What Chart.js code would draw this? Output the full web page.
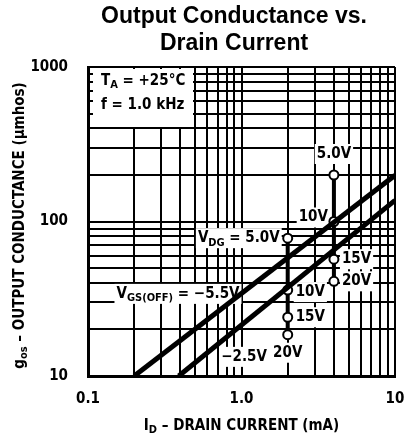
<!DOCTYPE html>
<html>
<head>
<meta charset="utf-8">
<script src="https://cdn.jsdelivr.net/npm/chart.js@4.4.1/dist/chart.umd.min.js"></script>
<style>
  html, body { margin: 0; padding: 0; background: #fff; }
  #wrap { width: 409px; height: 440px; position: relative; }
</style>
</head>
<body>
<div id="wrap"><canvas id="gosChart"></canvas></div>
<script>
// data (ID in mA, gos in umhos)
var xGrid = [0.1, 0.2, 0.3, 0.4, 0.5, 0.6, 0.7, 0.8, 0.9, 1, 2, 3, 4, 5, 6, 7, 8, 9, 10];
var yGrid = [10, 20, 30, 40, 50, 60, 70, 80, 90, 100, 200, 300, 400, 500, 600, 700, 800, 900, 1000];
var xTickVals = [0.1, 1, 10];
var xTickText = ['0.1', '1.0', '10'];
var yTickVals = [10, 100, 1000];
var yTickText = ['10', '100', '1000'];

// VGS(OFF) lines
var vgs55_id = [0.2, 10];
var vgs55_gos = [10, 199];
var vgs25_id = [0.39, 10];
var vgs25_gos = [10, 137];

// VDG spread bars
var vdgLabels = ['5.0V', '10V', '15V', '20V'];
var barA_id = 2;
var barA_gos = [78, 36, 24, 18.5];
var barB_id = 4;
var barB_gos = [200, 100, 57, 41];

function pts(xs, ys) { return xs.map(function (x, i) { return { x: x, y: ys[i] }; }); }
function barPts(x, ys) { return ys.map(function (y) { return { x: x, y: y }; }); }

var FONT = '"DejaVu Sans Condensed", "Liberation Sans Narrow", sans-serif';

// text with subscripts: parts = [[text, isSub], ...]
function richWidth(ctx, parts, size) {
    var w = 0;
    parts.forEach(function (p) {
        ctx.font = 'bold ' + (p[1] ? Math.round(size * 0.72) : size) + 'px ' + FONT;
        w += ctx.measureText(p[0]).width;
    });
    return w;
}
function drawRich(ctx, parts, x, y, align, size) {
    var w = richWidth(ctx, parts, size);
    var sx = align === 'right' ? x - w : (align === 'center' ? x - w / 2 : x);
    ctx.textBaseline = 'middle';
    ctx.textAlign = 'left';
    ctx.fillStyle = '#000';
    parts.forEach(function (p) {
        var s = p[1] ? Math.round(size * 0.72) : size;
        ctx.font = 'bold ' + s + 'px ' + FONT;
        ctx.fillText(p[0], sx, p[1] ? y + size * 0.3 : y);
        sx += ctx.measureText(p[0]).width;
    });
    return { x: x, w: w };
}

// labels anchored on data coords: [parts, x, y, align, dx, dy, size]
function labelList() {
    return [
        [[['V', 0], ['DG', 1], [' = 5.0V', 0]], barA_id, barA_gos[0], 'right', -8, 0, 15],
        [[[vdgLabels[1], 0]], barA_id, barA_gos[1], 'left', 8, 2, 15],
        [[[vdgLabels[2], 0]], barA_id, barA_gos[2], 'left', 8, 0, 15],
        [[[vdgLabels[3], 0]], barA_id, barA_gos[3], 'center', 0, 18, 15],
        [[[vdgLabels[0], 0]], barB_id, barB_gos[0], 'center', 0, -21, 15],
        [[[vdgLabels[1], 0]], barB_id, barB_gos[1], 'right', -6, -4, 15],
        [[[vdgLabels[2], 0]], barB_id, barB_gos[2], 'left', 8, 0, 15],
        [[[vdgLabels[3], 0]], barB_id, barB_gos[3], 'left', 8, 0, 15],
        [[['V', 0], ['GS(OFF)', 1], [' = \u22125.5V', 0]], 1.0, 34, 'right', -2, 0, 15],
        [[['\u22122.5V', 0]], 0.76, 13.3, 'left', -2, 0, 15]
    ];
}

var textPlugin = {
    id: 'textPlugin',
    beforeDatasetsDraw: function (chart) {
        // white boxes that break the grid behind the labels
        var ctx = chart.ctx, xs = chart.scales.x, ys = chart.scales.y;
        ctx.save();
        ctx.fillStyle = '#fff';
        ctx.fillRect(xs.left + 5, ys.top + 2, 100, 58);
        labelList().forEach(function (l) {
            var px = xs.getPixelForValue(l[1]) + l[4];
            var py = ys.getPixelForValue(l[2]) + l[5];
            var w = richWidth(ctx, l[0], l[6]);
            var sx = l[3] === 'right' ? px - w : (l[3] === 'center' ? px - w / 2 : px);
            ctx.fillStyle = '#fff';
            ctx.fillRect(sx - 2, py - 10, w + 4, 20);
        });
        ctx.restore();
    },
    afterDatasetsDraw: function (chart) {
        var ctx = chart.ctx, xs = chart.scales.x, ys = chart.scales.y;
        ctx.save();
        labelList().forEach(function (l) {
            drawRich(ctx, l[0], xs.getPixelForValue(l[1]) + l[4], ys.getPixelForValue(l[2]) + l[5], l[3], l[6]);
        });
        // conditions box
        drawRich(ctx, [['T', 0], ['A', 1], [' = +25\u00b0C', 0]], xs.left + 13, ys.top + 14, 'left', 15);
        drawRich(ctx, [['f = 1.0 kHz', 0]], xs.left + 13, ys.top + 38, 'left', 15);

        // tick labels
        xTickVals.forEach(function (v, i) {
            drawRich(ctx, [[xTickText[i], 0]], xs.getPixelForValue(v), ys.bottom + 23, 'center', 15);
        });
        yTickVals.forEach(function (v, i) {
            drawRich(ctx, [[yTickText[i], 0]], xs.left - 20, ys.getPixelForValue(v), 'right', 15);
        });

        // axis titles
        drawRich(ctx, [['I', 0], ['D', 1], [' \u2013 DRAIN CURRENT (mA)', 0]], (xs.left + xs.right) / 2, ys.bottom + 50, 'center', 15);
        ctx.translate(20, (ys.top + ys.bottom) / 2 + 4);
        ctx.rotate(-Math.PI / 2);
        drawRich(ctx, [['g', 0], ['os', 1], [' \u2013 OUTPUT CONDUCTANCE (\u03bcmhos)', 0]], 0, 0, 'center', 15);
        ctx.restore();

        // title
        ctx.save();
        ctx.fillStyle = '#000';
        ctx.textAlign = 'center';
        ctx.textBaseline = 'middle';
        ctx.font = 'bold 23px "Liberation Sans", Arial, sans-serif';
        ctx.fillText('Output Conductance vs.', 234, 17);
        ctx.fillText('Drain Current', 234, 44);
        ctx.restore();
    }
};

var lineStyle = { showLine: true, borderColor: '#000', borderWidth: 5, pointRadius: 0, fill: false };
var barStyle = {
    showLine: true, borderColor: '#000', borderWidth: 4,
    pointRadius: 4.5, pointBorderWidth: 2, pointBackgroundColor: '#fff', pointBorderColor: '#000'
};
var dotStyle = { showLine: false, pointRadius: 1.2, pointBorderWidth: 0, pointBackgroundColor: '#000' };

var data = {
    datasets: [
        Object.assign({ label: 'VGS(OFF) = -5.5V', data: pts(vgs55_id, vgs55_gos) }, lineStyle),
        Object.assign({ label: 'VGS(OFF) = -2.5V', data: pts(vgs25_id, vgs25_gos) }, lineStyle),
        Object.assign({ label: 'ID = 2mA', data: barPts(barA_id, barA_gos) }, barStyle),
        Object.assign({ label: 'ID = 4mA', data: barPts(barB_id, barB_gos) }, barStyle),
        Object.assign({ label: 'dotsA', data: barPts(barA_id, barA_gos) }, dotStyle),
        Object.assign({ label: 'dotsB', data: barPts(barB_id, barB_gos) }, dotStyle)
    ]
};

function axis(min, max, gridVals) {
    return {
        type: 'logarithmic',
        min: min,
        max: max,
        afterBuildTicks: function (scale) {
            scale.ticks = gridVals.map(function (v) { return { value: v }; });
        },
        ticks: { display: false },
        grid: { color: '#000', lineWidth: 2, drawTicks: false },
        border: { display: true, color: '#000', width: 3 }
    };
}

const config = {
    type: 'scatter',
    data,
    options: {
        responsive: false,
        animation: false,
        devicePixelRatio: 1,
        layout: { padding: { left: 88, right: 14, top: 67, bottom: 64 } },
        plugins: { legend: { display: false }, tooltip: { enabled: false } },
        scales: {
            x: axis(0.1, 10, xGrid),
            y: axis(10, 1000, yGrid)
        }
    },
    plugins: [textPlugin]
};

var cv = document.getElementById('gosChart');
cv.width = 409;
cv.height = 440;
const gosChart = new Chart(cv, config);
</script>
</body>
</html>
